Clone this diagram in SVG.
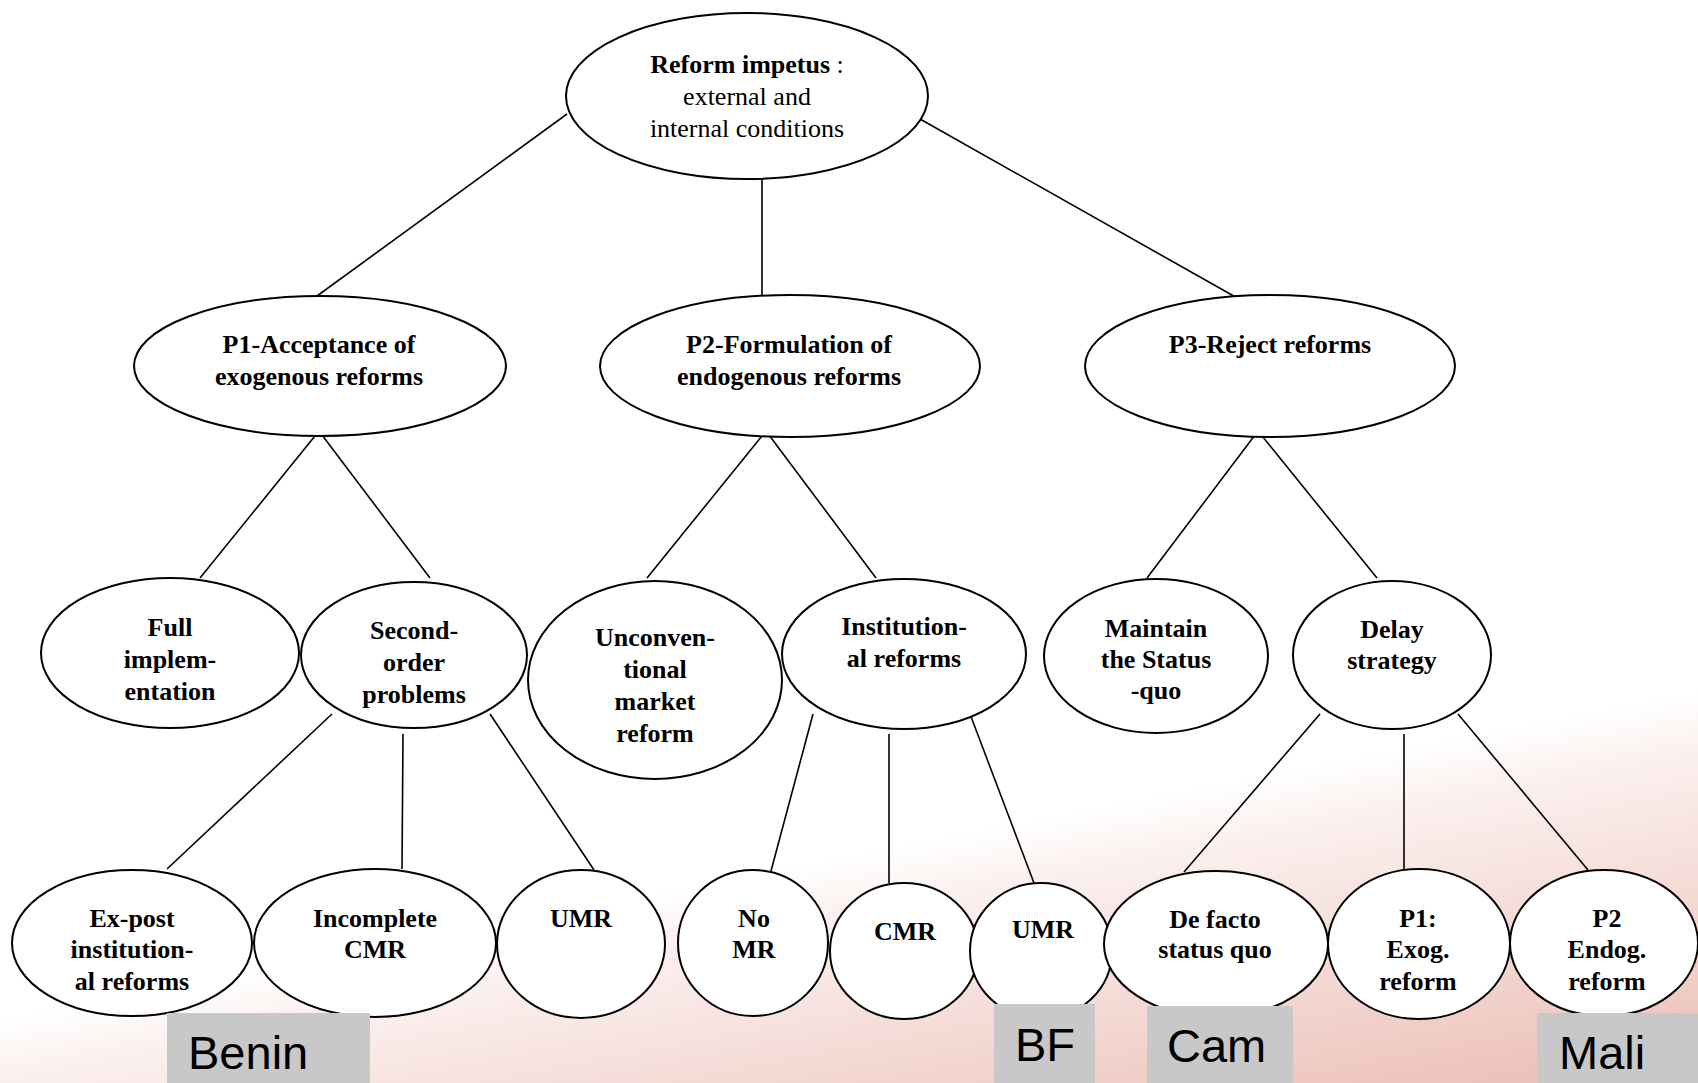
<svg xmlns="http://www.w3.org/2000/svg" width="1698" height="1083" viewBox="0 0 1698 1083">
  <defs>
    <linearGradient id="bgShade" gradientUnits="userSpaceOnUse" x1="190" y1="982" x2="263" y2="1361">
      <stop offset="0" stop-color="#ffffff"/>
      <stop offset="0.155" stop-color="#fbf0ee"/>
      <stop offset="1" stop-color="#ebbcb3"/>
    </linearGradient>
    <style>
      .node ellipse { fill: #ffffff; stroke: #000000; stroke-width: 2; }
      .node text { font-family: "Liberation Serif", "Times New Roman", serif; font-size: 26px; font-weight: bold; fill: #000000; text-anchor: middle; }
      .node text.plain { font-weight: normal; }
      #connectors line { stroke: #000000; stroke-width: 1.6; }
      .tag rect { fill: #c8c8c8; }
      .tag text { font-family: "Liberation Sans", Arial, sans-serif; font-size: 47px; fill: #000000; }
    </style>
  </defs>

  <!-- page background -->
  <rect x="0" y="0" width="1698" height="1083" fill="url(#bgShade)"/>

  <!-- tree edges -->
  <g id="connectors">
    <line x1="567" y1="114" x2="317" y2="296"/>
    <line x1="762" y1="172" x2="762" y2="296"/>
    <line x1="920" y1="119" x2="1239" y2="299"/>
    <line x1="319" y1="431" x2="200" y2="578"/>
    <line x1="319" y1="431" x2="430" y2="578"/>
    <line x1="766" y1="431" x2="647" y2="578"/>
    <line x1="766" y1="431" x2="876" y2="578"/>
    <line x1="1258" y1="431" x2="1147" y2="578"/>
    <line x1="1258" y1="431" x2="1377" y2="578"/>
    <line x1="332" y1="714" x2="167" y2="869"/>
    <line x1="403" y1="734" x2="402" y2="869"/>
    <line x1="490" y1="714" x2="594" y2="870"/>
    <line x1="813" y1="714" x2="771" y2="871"/>
    <line x1="889" y1="734" x2="889" y2="883"/>
    <line x1="970" y1="714" x2="1034" y2="883"/>
    <line x1="1320" y1="714" x2="1184" y2="872"/>
    <line x1="1404" y1="734" x2="1404" y2="870"/>
    <line x1="1458" y1="714" x2="1588" y2="870"/>
  </g>

  <!-- root -->
  <g id="reform-impetus" class="node">
    <ellipse cx="747" cy="96" rx="181" ry="83"/>
    <text x="747" y="73">Reform impetus<tspan font-weight="normal"> :</tspan></text>
    <text class="plain" x="747" y="105">external and</text>
    <text class="plain" x="747" y="137">internal conditions</text>
  </g>

  <!-- second level -->
  <g id="p1-acceptance" class="node">
    <ellipse cx="320" cy="366" rx="186" ry="70"/>
    <text x="319" y="353">P1-Acceptance of</text>
    <text x="319" y="385">exogenous reforms</text>
  </g>
  <g id="p2-formulation" class="node">
    <ellipse cx="790" cy="366" rx="190" ry="71"/>
    <text x="789" y="353">P2-Formulation of</text>
    <text x="789" y="385">endogenous reforms</text>
  </g>
  <g id="p3-reject" class="node">
    <ellipse cx="1270" cy="366" rx="185" ry="71"/>
    <text x="1270" y="353">P3-Reject reforms</text>
  </g>

  <!-- third level -->
  <g id="full-implementation" class="node">
    <ellipse cx="170" cy="653" rx="129" ry="75"/>
    <text x="170" y="636">Full</text>
    <text x="170" y="668">implem-</text>
    <text x="170" y="700">entation</text>
  </g>
  <g id="second-order" class="node">
    <ellipse cx="414" cy="655" rx="113" ry="73"/>
    <text x="414" y="639">Second-</text>
    <text x="414" y="671">order</text>
    <text x="414" y="703">problems</text>
  </g>
  <g id="unconventional" class="node">
    <ellipse cx="655" cy="680" rx="127" ry="99"/>
    <text x="655" y="646">Unconven-</text>
    <text x="655" y="678">tional</text>
    <text x="655" y="710">market</text>
    <text x="655" y="742">reform</text>
  </g>
  <g id="institutional" class="node">
    <ellipse cx="904" cy="654" rx="122" ry="75"/>
    <text x="904" y="635">Institution-</text>
    <text x="904" y="667">al reforms</text>
  </g>
  <g id="maintain-status-quo" class="node">
    <ellipse cx="1156" cy="656" rx="112" ry="77"/>
    <text x="1156" y="637">Maintain</text>
    <text x="1156" y="668">the Status</text>
    <text x="1156" y="699">-quo</text>
  </g>
  <g id="delay-strategy" class="node">
    <ellipse cx="1392" cy="655" rx="99" ry="74"/>
    <text x="1392" y="638">Delay</text>
    <text x="1392" y="669">strategy</text>
  </g>

  <!-- leaves -->
  <g id="ex-post" class="node">
    <ellipse cx="132" cy="943" rx="120" ry="73"/>
    <text x="132" y="927">Ex-post</text>
    <text x="132" y="958">institution-</text>
    <text x="132" y="990">al reforms</text>
  </g>
  <g id="incomplete-cmr" class="node">
    <ellipse cx="375" cy="943" rx="121" ry="74"/>
    <text x="375" y="927">Incomplete</text>
    <text x="375" y="958">CMR</text>
  </g>
  <g id="umr-second-order" class="node">
    <ellipse cx="581" cy="944" rx="84" ry="74"/>
    <text x="581" y="927">UMR</text>
  </g>
  <g id="no-mr" class="node">
    <ellipse cx="753" cy="943" rx="75" ry="73"/>
    <text x="754" y="927">No</text>
    <text x="754" y="958">MR</text>
  </g>
  <g id="cmr" class="node">
    <ellipse cx="904" cy="951" rx="74" ry="68"/>
    <text x="905" y="940">CMR</text>
  </g>
  <g id="umr-institutional" class="node">
    <ellipse cx="1041" cy="951" rx="71" ry="68"/>
    <text x="1043" y="938">UMR</text>
  </g>
  <g id="de-facto" class="node">
    <ellipse cx="1216" cy="944" rx="112" ry="73"/>
    <text x="1215" y="928">De facto</text>
    <text x="1215" y="958">status quo</text>
  </g>
  <g id="p1-exog" class="node">
    <ellipse cx="1419" cy="944" rx="91" ry="75"/>
    <text x="1418" y="927">P1:</text>
    <text x="1418" y="958">Exog.</text>
    <text x="1418" y="990">reform</text>
  </g>
  <g id="p2-endog" class="node">
    <ellipse cx="1604" cy="943" rx="94" ry="73"/>
    <text x="1607" y="927">P2</text>
    <text x="1607" y="958">Endog.</text>
    <text x="1607" y="990">reform</text>
  </g>

  <!-- country tags -->
  <g id="tag-benin" class="tag">
    <rect x="167" y="1013" width="203" height="70"/>
    <text x="188" y="1069">Benin</text>
  </g>
  <g id="tag-bf" class="tag">
    <rect x="994" y="1004" width="101" height="79"/>
    <text x="1015" y="1061">BF</text>
  </g>
  <g id="tag-cam" class="tag">
    <rect x="1147" y="1006" width="146" height="77"/>
    <text x="1167" y="1062">Cam</text>
  </g>
  <g id="tag-mali" class="tag">
    <rect x="1537" y="1013" width="161" height="70"/>
    <text x="1559" y="1069">Mali</text>
  </g>
</svg>
